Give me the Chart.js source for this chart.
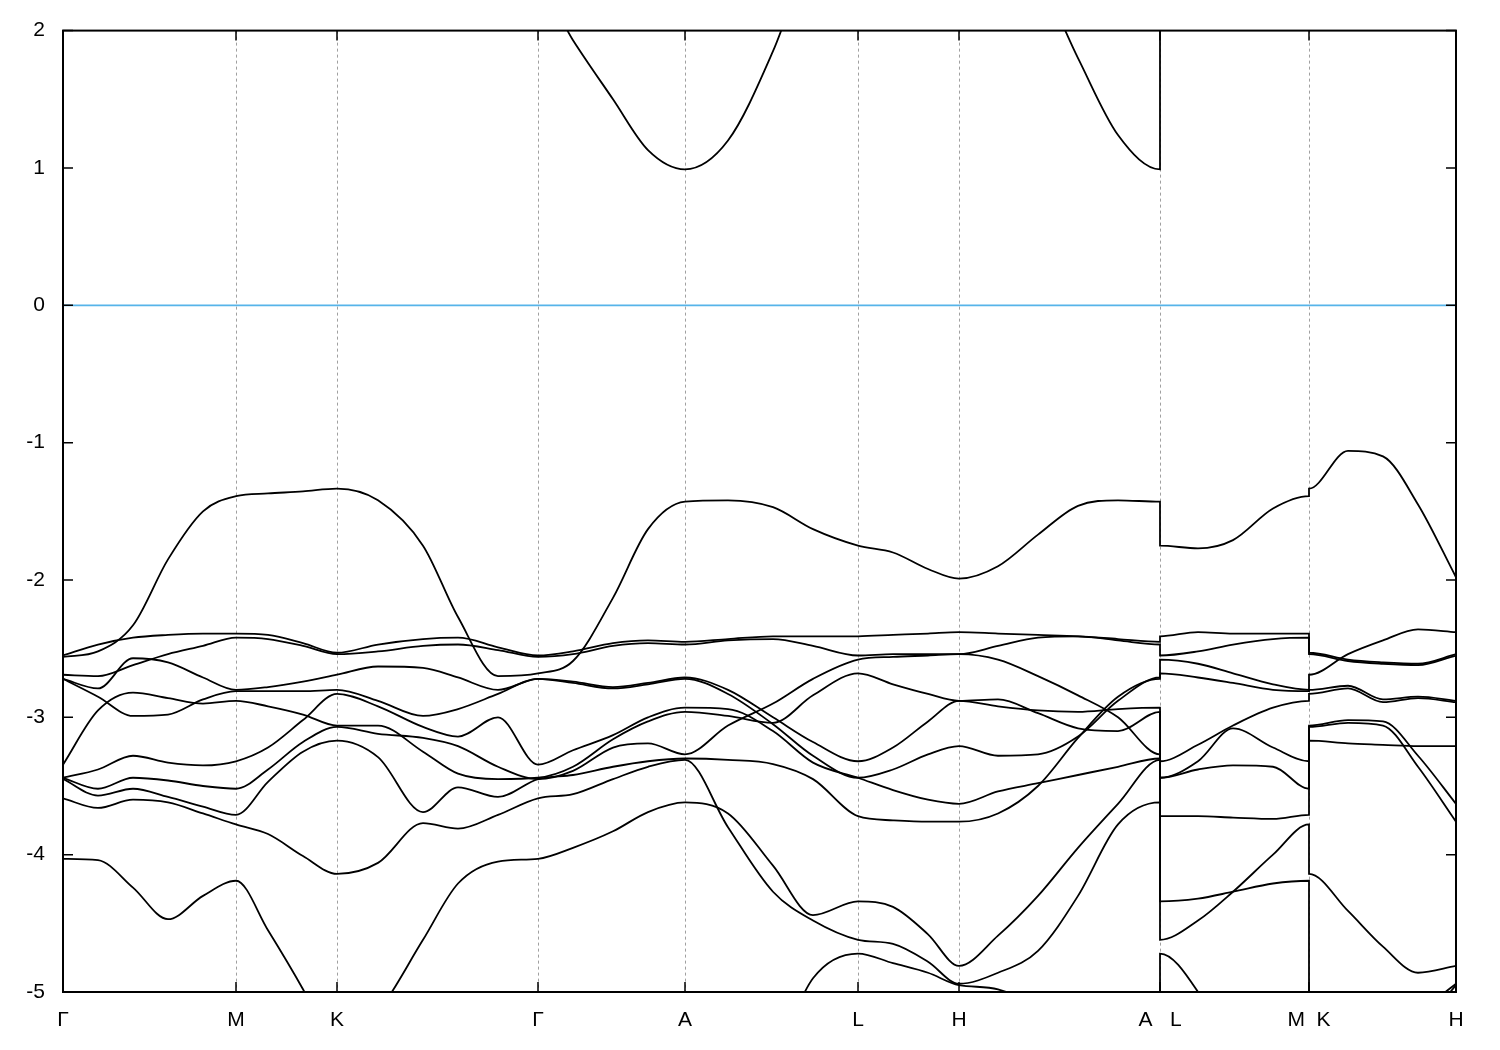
<!DOCTYPE html>
<html>
<head>
<meta charset="utf-8">
<script src="https://cdn.jsdelivr.net/npm/chart.js@4/dist/chart.umd.min.js"></script>
<style>
  html, body { margin: 0; padding: 0; background: #fff; }
  canvas { display: block; }
</style>
</head>
<body>
<canvas id="bands" width="1500" height="1050"></canvas>
<script>
// k-path positions (path length, arbitrary units) of the high-symmetry points
const kTicks = [0, 173, 274, 475, 622, 795, 896, 1097, 1246, 1393];
const kLabels = ['Γ', 'M', 'K', 'Γ', 'A', 'L', 'H', 'A   L', 'M  K', 'H'];
const fermi = 0;

// sample points on each segment of the path
const kGM = [0, 35, 70, 105, 140, 173];
const kMK = [173, 205, 240, 274];
const kKG = [274, 315, 360, 395, 435, 475];
const kGA = [475, 510, 550, 585, 622];
const kAL = [622, 665, 710, 750, 795];
const kLH = [795, 830, 865, 896];
const kHA = [896, 935, 975, 1015, 1055, 1097];
const kLM = [1097, 1135, 1170, 1210, 1246];
const kKH = [1246, 1285, 1320, 1355, 1393];

// band energies (eV) on every segment, one row per band
const bandsGM = [
  [2.35, 2.55, 2.85, 3.05, 3.15, 3.2],
  [-2.56, -2.52, -2.33, -1.85, -1.50, -1.39],
  [-2.55, -2.47, -2.42, -2.40, -2.39, -2.39],
  [-2.69, -2.70, -2.62, -2.54, -2.48, -2.42],
  [-2.72, -2.79, -2.57, -2.60, -2.71, -2.80],
  [-2.72, -2.85, -2.99, -2.98, -2.87, -2.81],
  [-3.345, -2.95, -2.82, -2.86, -2.90, -2.88],
  [-3.44, -3.38, -3.28, -3.33, -3.35, -3.32],
  [-3.44, -3.52, -3.44, -3.46, -3.50, -3.52],
  [-3.45, -3.57, -3.52, -3.58, -3.65, -3.71],
  [-3.59, -3.66, -3.60, -3.62, -3.70, -3.78],
  [-4.03, -4.04, -4.24, -4.47, -4.30, -4.19],
  [-6.3, -6.3, -6.4, -6.5, -6.5, -6.5]
];
const bandsMK = [
  [3.2, 3.1, 3.0, 2.95],
  [-1.39, -1.37, -1.355, -1.335],
  [-2.39, -2.40, -2.46, -2.53],
  [-2.42, -2.43, -2.48, -2.54],
  [-2.80, -2.78, -2.74, -2.69],
  [-2.81, -2.81, -2.81, -2.80],
  [-2.88, -2.92, -2.98, -3.06],
  [-3.32, -3.22, -3.02, -2.83],
  [-3.52, -3.38, -3.18, -3.07],
  [-3.71, -3.47, -3.25, -3.17],
  [-3.78, -3.85, -4.01, -4.14],
  [-4.19, -4.55, -4.98, -5.45],
  [-6.5, -6.4, -6.2, -6.0]
];
const bandsKG = [
  [2.95, 2.85, 2.7, 2.55, 2.42, 2.35],
  [-1.335, -1.42, -1.75, -2.27, -2.70, -2.68],
  [-2.53, -2.47, -2.43, -2.42, -2.49, -2.55],
  [-2.54, -2.52, -2.48, -2.47, -2.51, -2.56],
  [-2.69, -2.63, -2.64, -2.71, -2.80, -2.72],
  [-2.80, -2.88, -2.99, -2.94, -2.83, -2.72],
  [-2.83, -2.92, -3.07, -3.14, -3.00, -3.345],
  [-3.06, -3.06, -3.25, -3.41, -3.45, -3.44],
  [-3.07, -3.12, -3.15, -3.21, -3.36, -3.45],
  [-3.17, -3.29, -3.69, -3.51, -3.58, -3.45],
  [-4.14, -4.06, -3.77, -3.81, -3.71, -3.59],
  [-5.45, -5.15, -4.62, -4.21, -4.05, -4.03],
  [-6.0, -6.1, -6.2, -6.3, -6.3, -6.3]
];
const bandsGA = [
  [2.35, 1.93, 1.50, 1.13, 0.99],
  [-2.68, -2.59, -2.13, -1.63, -1.43],
  [-2.555, -2.52, -2.46, -2.44, -2.45],
  [-2.565, -2.54, -2.48, -2.46, -2.47],
  [-2.72, -2.74, -2.78, -2.75, -2.71],
  [-2.72, -2.75, -2.79, -2.76, -2.72],
  [-3.345, -3.24, -3.13, -3.00, -2.93],
  [-3.44, -3.36, -3.16, -3.03, -2.96],
  [-3.45, -3.39, -3.22, -3.19, -3.27],
  [-3.45, -3.42, -3.36, -3.32, -3.30],
  [-3.59, -3.56, -3.45, -3.36, -3.31],
  [-4.03, -3.95, -3.83, -3.69, -3.62],
  [-6.3, -6.3, -6.3, -6.3, -6.3]
];
const bandsAL = [
  [0.99, 1.20, 1.85, 2.6, 3.0],
  [-1.43, -1.42, -1.47, -1.63, -1.75],
  [-2.45, -2.43, -2.41, -2.41, -2.41],
  [-2.47, -2.44, -2.43, -2.48, -2.55],
  [-2.71, -2.80, -3.00, -3.18, -3.32],
  [-2.72, -2.83, -3.05, -3.28, -3.44],
  [-2.93, -2.94, -3.10, -3.33, -3.44],
  [-2.96, -2.99, -3.04, -2.84, -2.68],
  [-3.27, -3.06, -2.90, -2.72, -2.58],
  [-3.30, -3.31, -3.34, -3.45, -3.72],
  [-3.31, -3.80, -4.27, -4.48, -4.62],
  [-3.62, -3.70, -4.08, -4.44, -4.34],
  [-6.3, -6.0, -5.5, -4.90, -4.72]
];
const bandsLH = [
  [3.0, 3.0, 2.9, 2.8],
  [-1.75, -1.80, -1.92, -1.99],
  [-2.41, -2.40, -2.39, -2.38],
  [-2.55, -2.54, -2.54, -2.54],
  [-2.58, -2.56, -2.55, -2.54],
  [-2.68, -2.76, -2.83, -2.88],
  [-3.32, -3.22, -3.03, -2.88],
  [-3.44, -3.38, -3.27, -3.21],
  [-3.44, -3.53, -3.60, -3.63],
  [-3.72, -3.75, -3.76, -3.76],
  [-4.34, -4.38, -4.58, -4.81],
  [-4.62, -4.65, -4.78, -4.94],
  [-4.72, -4.79, -4.86, -4.95]
];
const bandsHA = [
  [2.8, 2.65, 2.4, 1.80, 1.24, 0.99],
  [-1.99, -1.90, -1.67, -1.46, -1.42, -1.43],
  [-2.38, -2.39, -2.40, -2.41, -2.43, -2.45],
  [-2.54, -2.48, -2.42, -2.41, -2.44, -2.47],
  [-2.54, -2.58, -2.70, -2.84, -3.00, -3.27],
  [-2.88, -2.92, -2.95, -2.96, -2.94, -2.93],
  [-2.88, -2.87, -2.97, -3.08, -3.10, -2.96],
  [-3.21, -3.28, -3.27, -3.14, -2.88, -2.71],
  [-3.63, -3.54, -3.48, -3.42, -3.36, -3.30],
  [-3.76, -3.70, -3.50, -3.15, -2.85, -2.72],
  [-4.81, -4.59, -4.30, -3.95, -3.63, -3.31],
  [-4.94, -4.86, -4.70, -4.30, -3.78, -3.62],
  [-4.95, -4.98, -5.15, -5.6, -6.0, -6.3]
];
const bandsLM = [
  [3.0, 3.1, 3.2, 3.2, 3.1],
  [-1.75, -1.77, -1.71, -1.48, -1.39],
  [-2.41, -2.38, -2.39, -2.39, -2.39],
  [-2.55, -2.52, -2.47, -2.43, -2.42],
  [-2.58, -2.61, -2.68, -2.76, -2.80],
  [-2.68, -2.71, -2.75, -2.80, -2.81],
  [-3.32, -3.20, -3.06, -2.93, -2.88],
  [-3.44, -3.32, -3.08, -3.22, -3.32],
  [-3.44, -3.38, -3.35, -3.36, -3.52],
  [-3.72, -3.72, -3.73, -3.74, -3.71],
  [-4.34, -4.32, -4.27, -4.21, -4.19],
  [-4.62, -4.48, -4.27, -4.00, -3.78],
  [-4.72, -5.0, -5.5, -6.0, -6.5]
];
const bandsKH = [
  [2.95, 2.9, 2.85, 2.8, 2.8],
  [-1.335, -1.06, -1.10, -1.45, -1.98],
  [-2.53, -2.58, -2.60, -2.61, -2.54],
  [-2.54, -2.59, -2.61, -2.62, -2.55],
  [-2.69, -2.54, -2.44, -2.36, -2.38],
  [-2.80, -2.77, -2.87, -2.85, -2.88],
  [-2.83, -2.79, -2.89, -2.86, -2.89],
  [-3.06, -3.02, -3.03, -3.28, -3.63],
  [-3.07, -3.04, -3.06, -3.36, -3.76],
  [-3.17, -3.19, -3.20, -3.21, -3.21],
  [-4.14, -4.41, -4.67, -4.86, -4.81],
  [-5.45, -5.4, -5.3, -5.15, -4.94],
  [-6.5, -6.2, -5.8, -5.3, -4.95]
];

const segments = [
  { k: kGM, bands: bandsGM },
  { k: kMK, bands: bandsMK },
  { k: kKG, bands: bandsKG },
  { k: kGA, bands: bandsGA },
  { k: kAL, bands: bandsAL },
  { k: kLH, bands: bandsLH },
  { k: kHA, bands: bandsHA },
  { k: kLM, bands: bandsLM, jump: true },  // A|L break
  { k: kKH, bands: bandsKH, jump: true }   // M|K break
];

// join the segments band by band: bands are sorted in energy at every k,
// so the n-th highest band at a segment end continues as the n-th highest one
const lines = segments[0].bands.map(b => b.map((e, i) => ({ x: segments[0].k[i], y: e })));
for (let s = 1; s < segments.length; s++) {
  const seg = segments[s];
  const last = l => l[l.length - 1].y;
  const ends = lines.map((l, i) => i).sort((a, b) => last(lines[b]) - last(lines[a]));
  const starts = seg.bands.map((b, i) => i).sort((a, b) => seg.bands[b][0] - seg.bands[a][0]);
  ends.forEach((li, r) => {
    seg.bands[starts[r]].forEach((e, i) => {
      if (i === 0 && !seg.jump) return;
      lines[li].push({ x: seg.k[i], y: e });
    });
  });
}

const font = { family: '"Liberation Sans", Arial, sans-serif', size: 21 };

// border, inward ticks and dashed lines at the high-symmetry points
const frame = {
  id: 'frame',
  beforeDatasetsDraw(chart) {
    const { ctx, chartArea: a, scales: { x } } = chart;
    ctx.save();
    ctx.strokeStyle = '#a0a0a0';
    ctx.lineWidth = 1;
    ctx.setLineDash([3, 3]);
    kTicks.slice(1, -1).forEach(v => {
      const px = Math.round(x.getPixelForValue(v)) + 0.5;
      ctx.beginPath();
      ctx.moveTo(px, a.top);
      ctx.lineTo(px, a.bottom);
      ctx.stroke();
    });
    ctx.restore();
  },
  afterDatasetsDraw(chart) {
    const { ctx, chartArea: a, scales: { x, y } } = chart;
    ctx.save();
    ctx.strokeStyle = '#000';
    ctx.lineWidth = 1.5;
    ctx.beginPath();
    kTicks.forEach(v => {
      const px = x.getPixelForValue(v);
      ctx.moveTo(px, a.bottom); ctx.lineTo(px, a.bottom - 10);
      ctx.moveTo(px, a.top); ctx.lineTo(px, a.top + 10);
    });
    y.ticks.forEach(t => {
      const py = y.getPixelForValue(t.value);
      ctx.moveTo(a.left, py); ctx.lineTo(a.left + 10, py);
      ctx.moveTo(a.right, py); ctx.lineTo(a.right - 10, py);
    });
    ctx.stroke();
    ctx.lineWidth = 2;
    ctx.strokeRect(a.left, a.top, a.right - a.left, a.bottom - a.top);
    ctx.restore();
  }
};

const datasets = lines.map(l => ({
  data: l,
  borderColor: '#000',
  borderWidth: 1.8,
  pointRadius: 0,
  fill: false,
  cubicInterpolationMode: 'monotone'
}));
datasets.push({
  data: [{ x: kTicks[0], y: fermi }, { x: kTicks[kTicks.length - 1], y: fermi }],
  borderColor: '#56b4e9',
  borderWidth: 1.8,
  pointRadius: 0,
  fill: false
});

new Chart(document.getElementById('bands'), {
  type: 'line',
  data: { datasets },
  options: {
    responsive: false,
    animation: false,
    devicePixelRatio: 1,
    layout: { padding: { top: 28, right: 44, left: 0, bottom: 0 } },
    plugins: { legend: { display: false }, tooltip: { enabled: false } },
    scales: {
      x: {
        type: 'linear',
        min: kTicks[0],
        max: kTicks[kTicks.length - 1],
        grid: { display: false, drawTicks: false },
        border: { display: false },
        afterBuildTicks: s => { s.ticks = kTicks.map(v => ({ value: v })); },
        afterFit: s => { s.height = 58; },
        ticks: {
          autoSkip: false,
          maxRotation: 0,
          padding: 16,
          color: '#000',
          font,
          callback: (v, i) => kLabels[i]
        }
      },
      y: {
        min: -5,
        max: 2,
        grid: { display: false, drawTicks: false },
        border: { display: false },
        afterFit: s => { s.width = 63; },
        ticks: {
          stepSize: 1,
          padding: 18,
          color: '#000',
          font,
          callback: v => String(v)
        }
      }
    }
  },
  plugins: [frame]
});
</script>
</body>
</html>
